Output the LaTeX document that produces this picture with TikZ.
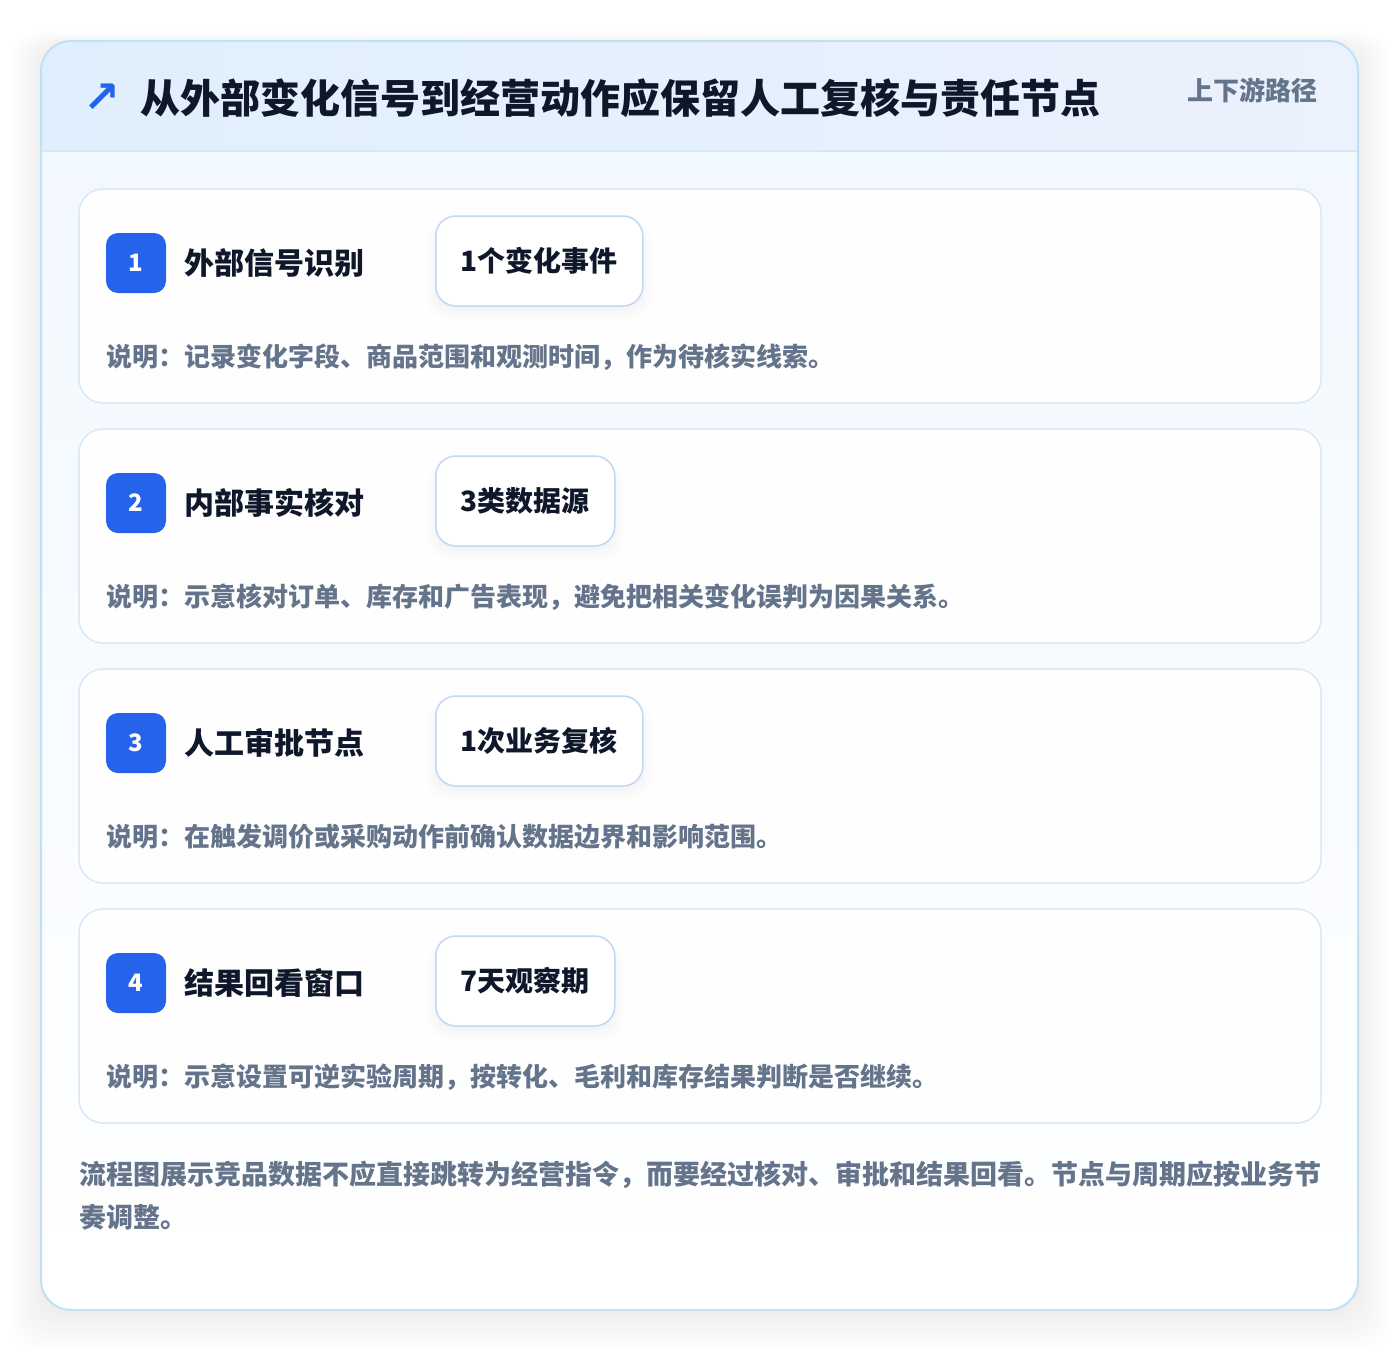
\documentclass[tikz,border=0pt]{standalone}
\usepackage{fontspec}
\setmainfont{Noto Sans CJK SC}
\newfontfamily\symfont{DejaVu Sans}
\usetikzlibrary{shadows}

\definecolor{badgeblue}{RGB}{37,99,235}
\definecolor{ink}{RGB}{15,23,42}
\definecolor{slate}{RGB}{100,116,139}
\definecolor{frameline}{RGB}{190,225,245}
\definecolor{headl}{RGB}{224,239,253}
\definecolor{headr}{RGB}{235,241,253}
\definecolor{headline}{RGB}{212,230,247}
\definecolor{bodytop}{RGB}{240,247,254}
\definecolor{cardline}{RGB}{217,232,248}
\definecolor{pillline}{RGB}{191,216,245}

\tikzset{
  cardbox/.style={draw=cardline, line width=1.5pt, fill=white, fill opacity=.95, rounded corners=24pt},
  badge/.style={fill=badgeblue, rounded corners=12pt, minimum size=60pt, inner sep=0pt,
    text=white, font=\bfseries\fontsize{24}{24}\selectfont},
  steptitle/.style={anchor=west, inner sep=0pt, text=ink, font=\bfseries\fontsize{30}{30}\selectfont},
  pill/.style={draw=pillline, line width=1.5pt, fill=white, rounded corners=20pt,
    minimum height=90pt, inner xsep=25pt, inner ysep=0pt, anchor=west, text=ink,
    font=\bfseries\fontsize{28}{28}\selectfont,
    drop shadow={opacity=.018, shadow xshift=0pt, shadow yshift=-9pt, shadow scale=1.08},
    drop shadow={opacity=.022, shadow xshift=0pt, shadow yshift=-7pt, shadow scale=1.04},
    drop shadow={opacity=.025, shadow xshift=0pt, shadow yshift=-4pt, shadow scale=1.01}},
  note/.style={anchor=west, inner sep=0pt, text=slate, font=\bfseries\fontsize{26}{26}\selectfont},
}

\begin{document}
\begin{tikzpicture}[x=1pt,y=-1pt]
\useasboundingbox (0,0) rectangle (1400,1352);
\fill[white] (0,0) rectangle (1400,1352);

% soft shadow of the frame
\foreach \k in {1,...,16}
  \fill[black, opacity=.0045, rounded corners=30pt]
    (41-2*\k, 47-\k) rectangle (1358+2*\k, 1312+2.4*\k);

% frame, header band
\shade[top color=bodytop, bottom color=white, rounded corners=30pt]
    (41,41) rectangle (1358,1310);
\begin{scope}
  \clip[rounded corners=30pt] (41,41) rectangle (1358,1310);
  \shade[left color=headl, right color=headr] (41,41) rectangle (1358,151);
  \draw[headline, line width=1.5pt] (41,151) -- (1358,151);
\end{scope}
\draw[frameline, line width=2pt, rounded corners=30pt] (41,41) rectangle (1358,1310);

\node[text=badgeblue, font=\symfont\bfseries\fontsize{44}{44}\selectfont] (icon) at (102,98) {↗};
\node[anchor=west, inner sep=0pt, text=ink, font=\bfseries\fontsize{40}{40}\selectfont]
    (title) at (140,98) {从外部变化信号到经营动作应保留人工复核与责任节点};
\node[anchor=east, inner sep=0pt, text=slate, font=\bfseries\fontsize{26}{26}\selectfont]
    (tag) at (1318,90) {上下游路径};

% steps
\foreach \n/\y/\name/\count/\desc in {
    1/189/{外部信号识别}/{1个变化事件}/{说明：记录变化字段、商品范围和观测时间，作为待核实线索。},
    2/429/{内部事实核对}/{3类数据源}/{说明：示意核对订单、库存和广告表现，避免把相关变化误判为因果关系。},
    3/669/{人工审批节点}/{1次业务复核}/{说明：在触发调价或采购动作前确认数据边界和影响范围。},
    4/909/{结果回看窗口}/{7天观察期}/{说明：示意设置可逆实验周期，按转化、毛利和库存结果判断是否继续。}}
{
  \draw[cardbox] (79,\y) rectangle (1321,\y+214);
  \node[badge] (badge\n) at (136,\y+74) {\n};
  \node[steptitle] (name\n) at (184,\y+74) {\name};
  \node[pill] (count\n) at (435,\y+72) {\count};
  \node[note] (desc\n) at (106,\y+168) {\desc};
}

\node[note, font=\bfseries\fontsize{27}{27}\selectfont] (foot1) at (79,1175)
    {流程图展示竞品数据不应直接跳转为经营指令，而要经过核对、审批和结果回看。节点与周期应按业务节};
\node[note, font=\bfseries\fontsize{27}{27}\selectfont] (foot2) at (79,1217) {奏调整。};
\end{tikzpicture}
\end{document}
